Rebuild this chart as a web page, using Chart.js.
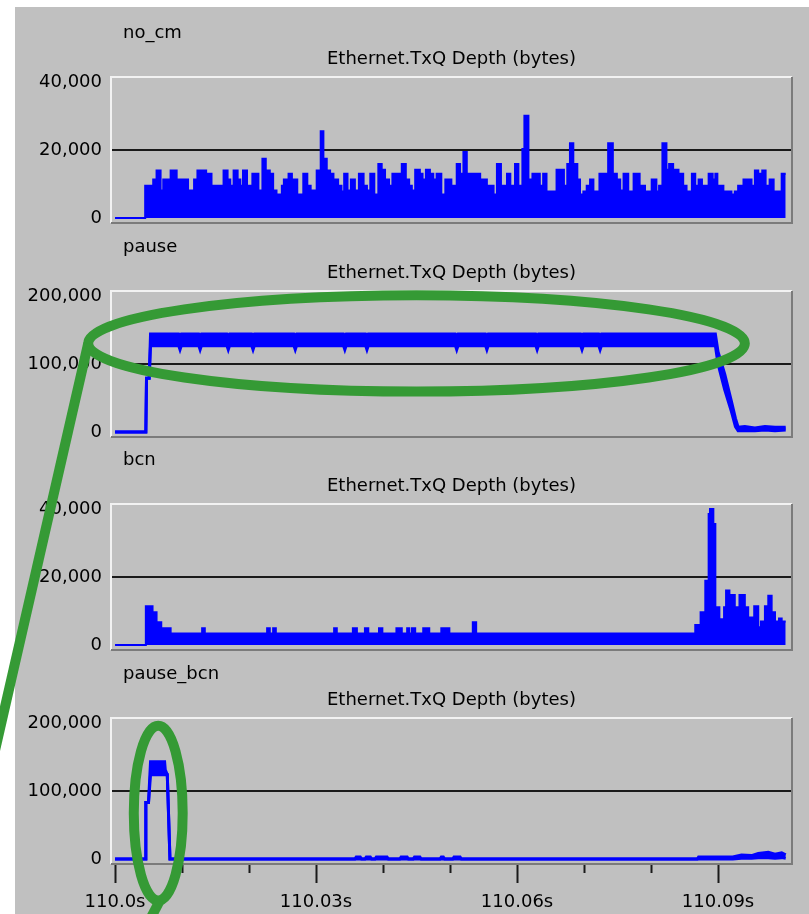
<!DOCTYPE html>
<html>
<head>
<meta charset="utf-8">
<script src="https://cdn.jsdelivr.net/npm/chart.js@4.4.1/dist/chart.umd.min.js"></script>
<style>
  html, body { margin: 0; padding: 0; width: 809px; height: 914px; overflow: hidden; background: #fff; }
  #bg { position: absolute; left: 15px; top: 7px; width: 794px; height: 907px; background: #c0c0c0; }
  canvas.panel { position: absolute; left: 0; }
  .lbl { position: absolute; font: 18px "DejaVu Sans"; line-height: 20px; color: #000; white-space: nowrap; }
  .ttl { left: 111px; width: 681px; text-align: center; }
  #marks { position: absolute; left: 0; top: 0; pointer-events: none; }
</style>
</head>
<body>
<div id="bg"></div>
<canvas id="marks" width="809" height="914"></canvas>
<script>
// time is in ms after 110.0 s, depth in bytes

// no_cm: step changes
const timesNoCm = [0, 4.5, 5.7, 6.2, 6.8, 7.2, 8.3, 9.2, 10.9, 11.8, 12.3, 13.6, 13.9, 14.4, 16.2, 16.8, 17.2, 17.7, 18.3, 18.7,
  19.1, 19.7, 20.0, 20.5, 21.4, 22.0, 22.5, 23.1, 23.6, 24.1, 24.9, 25.2, 25.9, 26.4, 26.7, 27.2, 28.1, 28.7, 29.2, 30.1,
  30.7, 31.1, 31.6, 32.1, 32.6, 33.3, 33.8, 34.2, 34.7, 35.2, 35.8, 36.4, 37.1, 37.6, 38.1, 38.7, 39.3, 39.8, 40.3, 40.9,
  41.4, 42.8, 43.4, 43.9, 44.3, 44.8, 45.5, 45.9, 46.4, 47.0, 47.5, 48.0, 48.7, 49.3, 50.2, 51.0, 51.5, 52.0, 52.5, 54.5,
  54.7, 55.5, 55.8, 56.5, 57.0, 57.6, 58.5, 59.0, 59.7, 60.2, 60.8, 61.1, 61.7, 62.3, 63.4, 63.9, 64.4, 64.7, 65.9, 67.0,
  67.5, 67.9, 68.4, 69.0, 69.4, 69.9, 70.4, 70.9, 71.4, 72.3, 73.6, 74.3, 74.9, 75.4, 75.9, 76.6, 77.4, 78.3, 79.1, 80.1,
  80.8, 81.2, 81.7, 82.3, 82.7, 83.3, 84.1, 84.8, 85.3, 86.1, 86.6, 87.1, 87.6, 87.9, 88.6, 89.2, 89.6, 89.9, 90.8, 92.0,
  92.5, 93.0, 93.8, 95.0, 95.5, 96.0, 96.6, 97.1, 97.7, 98.3, 99.5, 100.1];
const valuesNoCm = [0, 9500, 11300, 14000, 8100, 11300, 14000, 11300, 8100, 11300, 14000, 8100, 13000, 9500, 14000, 11300, 9500, 14000, 11300, 9500,
  14000, 8100, 9500, 13000, 8100, 17400, 14000, 13000, 8100, 6900, 9500, 11300, 13000, 9500, 11300, 6900, 13000, 9500, 8100, 14000,
  25500, 17400, 14000, 13000, 11300, 9500, 7800, 13000, 8100, 11300, 8100, 13000, 9500, 8100, 13000, 6900, 15900, 14200, 11300, 9500,
  13000, 15900, 11300, 9500, 8100, 14200, 13000, 11300, 14200, 13000, 11300, 13000, 6900, 11300, 9500, 15900, 13000, 19400, 13000, 9500,
  11300, 6900, 9500, 6900, 15900, 9500, 13000, 9500, 15900, 9500, 20300, 30100, 11300, 13000, 9500, 13000, 6900, 7800, 14200, 9500,
  15900, 22000, 15900, 11300, 6900, 7800, 9500, 11300, 7800, 13000, 22000, 13000, 11300, 8100, 13000, 7800, 13000, 9500, 7800, 11300,
  7800, 9500, 22000, 14200, 15900, 14200, 13000, 9500, 7800, 13000, 9500, 11300, 7800, 9500, 13000, 11300, 13000, 9500, 7800, 6900,
  7800, 9500, 11300, 9500, 14000, 13000, 14000, 9500, 11300, 7800, 13000, 13000];

// pause: band of the queue (upper and lower edge)
const timesPause = [0, 4.6, 4.7, 5.1, 5.3, 9.5, 9.7, 9.9, 12.5, 12.7, 12.9, 16.7, 16.9, 17.1, 20.4, 20.6, 20.8, 26.7, 26.9, 27.1,
  34.1, 34.3, 34.5, 37.4, 37.6, 37.8, 50.8, 51.0, 51.2, 55.3, 55.5, 55.7, 62.8, 63.0, 63.2, 69.5, 69.7, 69.9, 72.2, 72.4,
  72.6, 89.6, 90.0, 91.0, 92.0, 92.6, 93.0, 94.0, 95.5, 97.0, 98.5, 100.1];
const pauseUpper = [0, 0, 79000, 79000, 144000, 144000, 141000, 144000, 144000, 141000, 144000, 144000, 141000, 144000, 144000, 141000, 144000, 144000, 141000, 144000,
  144000, 141000, 144000, 144000, 141000, 144000, 144000, 141000, 144000, 144000, 141000, 144000, 144000, 141000, 144000, 144000, 141000, 144000, 144000, 141000,
  144000, 144000, 118000, 85000, 45000, 20000, 7000, 8000, 6000, 8000, 7000, 7000];
const pauseLower = [0, 0, 79000, 79000, 127000, 127000, 121000, 127000, 127000, 121000, 127000, 127000, 121000, 127000, 127000, 121000, 127000, 127000, 121000, 127000,
  127000, 121000, 127000, 127000, 121000, 127000, 127000, 121000, 127000, 127000, 121000, 127000, 127000, 121000, 127000, 127000, 121000, 127000, 127000, 121000,
  127000, 127000, 100000, 62000, 30000, 8000, 2000, 2000, 2000, 3000, 2000, 3000];

// bcn: step changes
const timesBcn = [0, 4.6, 5.6, 6.2, 6.9, 8.3, 13.0, 13.4, 22.7, 23.1, 23.6, 24.0, 32.7, 33.1, 35.5, 36.1, 37.3, 37.8, 39.4, 39.9,
  42.0, 42.8, 43.6, 43.9, 44.3, 44.8, 46.0, 46.9, 48.7, 49.9, 53.4, 53.9, 86.6, 87.4, 88.1, 88.6, 88.8, 89.3, 89.6, 90.2,
  90.9, 91.2, 91.7, 92.0, 92.5, 93.2, 94.0, 94.5, 95.4, 96.0, 96.4, 97.0, 97.5, 98.0, 98.5, 99.1, 99.5, 100.1];
const valuesBcn = [0, 11400, 9600, 6700, 4900, 3400, 4900, 3400, 4900, 3400, 4900, 3400, 4900, 3400, 4900, 3400, 4900, 3400, 4900, 3400,
  4900, 3400, 4900, 3400, 4900, 3400, 4900, 3400, 4900, 3400, 6700, 3400, 5900, 9600, 18900, 38500, 40000, 35600, 11100, 7600,
  11100, 16000, 11100, 14700, 11100, 14700, 11100, 8100, 11400, 5200, 6900, 11400, 14500, 9600, 6900, 7800, 6900, 6900];

// pause_bcn: band of the queue (upper and lower edge)
const timesPauseBcn = [0, 4.5, 4.6, 5.0, 5.3, 7.4, 7.5, 7.8, 8.2, 35.8, 36.0, 36.6, 36.8, 37.3, 37.5, 38.1, 38.3, 38.8, 39.0, 40.6,
  40.8, 42.5, 42.7, 43.6, 43.8, 44.5, 44.7, 45.5, 45.7, 48.5, 48.7, 49.0, 49.2, 50.4, 50.6, 51.5, 51.7, 86.9, 87.1, 92.2,
  93.5, 95.0, 96.0, 97.5, 98.5, 99.5, 100.1];
const pauseBcnUpper = [0, 0, 83000, 83000, 143000, 143000, 131000, 124000, 0, 0, 3000, 3000, 0, 0, 3000, 3000, 0, 0, 3000, 3000,
  0, 0, 3000, 3000, 0, 0, 3000, 3000, 0, 0, 3000, 3000, 0, 0, 3000, 3000, 0, 0, 3000, 3000,
  6000, 5000, 8000, 10000, 7000, 9000, 6000];
const pauseBcnLower = [0, 0, 83000, 83000, 124000, 124000, 124000, 124000, 0, 0, 0, 0, 0, 0, 0, 0, 0, 0, 0, 0,
  0, 0, 0, 0, 0, 0, 0, 0, 0, 0, 0, 0, 0, 0, 0, 0, 0, 0, 0, 0,
  1000, 1000, 2000, 2000, 1000, 2000, 1000];

const panelNames = ['no_cm', 'pause', 'bcn', 'pause_bcn'];
const panelTitle = 'Ethernet.TxQ Depth (bytes)';
const yTicksSmall = [0, 20000, 40000];
const yTicksBig = [0, 100000, 200000];
const xTicks = [0, 10, 20, 30, 40, 50, 60, 70, 80, 90];
const xTickLabels = ['110.0s', '', '', '110.03s', '', '', '110.06s', '', '', '110.09s'];

// layout
const W = 809, BOX_L = 111, BOX_R = 792, BOX_H = 146, PAD = 10, X_AXIS_H = 70;
const boxTops = [77, 291, 504, 718];
const X_MIN = -0.6, X_MAX = 101.04;
const BLUE = '#0000ff';
const GREEN = '#359a35';

Chart.defaults.font.family = '"DejaVu Sans"';
Chart.defaults.font.size = 18;
Chart.defaults.color = '#000';

const framePlugin = {
  id: 'frame',
  afterDraw(chart) {
    const { ctx, chartArea: a } = chart;
    ctx.save();
    ctx.lineWidth = 2;
    ctx.strokeStyle = '#f2f2f2';
    ctx.beginPath();
    ctx.moveTo(a.left, a.bottom);
    ctx.lineTo(a.left, a.top);
    ctx.lineTo(a.right, a.top);
    ctx.stroke();
    ctx.strokeStyle = '#7b7b7b';
    ctx.beginPath();
    ctx.moveTo(a.right, a.top);
    ctx.lineTo(a.right, a.bottom);
    ctx.lineTo(a.left, a.bottom);
    ctx.stroke();
    ctx.restore();
  }
};

function stepSet(times, vals) {
  return {
    data: times.map((t, i) => ({ x: t, y: vals[i] })),
    stepped: true, fill: 'origin',
    borderColor: BLUE, backgroundColor: BLUE, borderWidth: 2, pointRadius: 0
  };
}

function bandSets(times, upper, lower) {
  return [
    { data: times.map((t, i) => ({ x: t, y: upper[i] })), fill: false,
      borderColor: BLUE, borderWidth: 3, pointRadius: 0, tension: 0 },
    { data: times.map((t, i) => ({ x: t, y: lower[i] })), fill: '-1',
      borderColor: BLUE, backgroundColor: BLUE, borderWidth: 3, pointRadius: 0, tension: 0 }
  ];
}

function addText(cls, text, top) {
  const d = document.createElement('div');
  d.className = cls;
  d.textContent = text;
  d.style.top = top + 'px';
  document.body.appendChild(d);
  return d;
}

const canvases = [];

function makePanel(i, datasets, yTicks) {
  const last = i === 3;
  const cv = document.createElement('canvas');
  cv.className = 'panel';
  cv.width = W;
  cv.height = last ? PAD + BOX_H + X_AXIS_H : PAD * 2 + BOX_H;
  cv.style.top = (boxTops[i] - PAD) + 'px';
  document.body.insertBefore(cv, document.getElementById('marks'));
  canvases.push(cv);

  const nm = addText('lbl', panelNames[i], boxTops[i] - 55);
  nm.style.left = '123px';
  addText('lbl ttl', panelTitle, boxTops[i] - 29);

  const top = yTicks[yTicks.length - 1];
  const margin = top * 5 / 136;

  return new Chart(cv, {
    type: 'line',
    data: { datasets },
    options: {
      responsive: false,
      animation: false,
      devicePixelRatio: 1,
      events: [],
      layout: { padding: { top: PAD, bottom: last ? 0 : PAD, left: 0, right: W - BOX_R } },
      plugins: { legend: { display: false }, tooltip: { enabled: false } },
      scales: {
        x: {
          type: 'linear', min: X_MIN, max: X_MAX, display: last,
          afterBuildTicks: s => { s.ticks = xTicks.map(v => ({ value: v })); },
          afterFit: s => {
            s.height = last ? X_AXIS_H : 0;
            s.paddingLeft = 0;
            s.paddingRight = 0;
          },
          border: { display: false },
          grid: {
            drawOnChartArea: false, drawTicks: true, tickLength: 19, tickWidth: 2, tickColor: '#1a1a1a',
            tickBorderDash: c => (xTickLabels[c.index] ? [] : [9, 40])
          },
          ticks: { autoSkip: false, maxRotation: 0, padding: 9, color: '#000',
            callback: (v, idx) => xTickLabels[idx] }
        },
        y: {
          min: -margin, max: top + margin,
          afterBuildTicks: s => { s.ticks = yTicks.map(v => ({ value: v })); },
          afterFit: s => { s.width = BOX_L; s.paddingTop = 0; s.paddingBottom = 0; },
          border: { display: false },
          grid: {
            drawTicks: false, lineWidth: 2,
            color: c => (c.tick && c.tick.value === yTicks[1] ? '#1a1a1a' : 'rgba(0,0,0,0)')
          },
          ticks: { padding: 9, color: '#000', callback: v => v.toLocaleString('en-US') }
        }
      }
    },
    plugins: [framePlugin]
  });
}

const charts = [
  makePanel(0, [stepSet(timesNoCm, valuesNoCm)], yTicksSmall),
  makePanel(1, bandSets(timesPause, pauseUpper, pauseLower), yTicksBig),
  makePanel(2, [stepSet(timesBcn, valuesBcn)], yTicksSmall),
  makePanel(3, bandSets(timesPauseBcn, pauseBcnUpper, pauseBcnLower), yTicksBig)
];

// green highlight marks, given in the data units of the panel they sit on
const marks = [
  { type: 'ellipse', chart: 1, x: [-4.0, 94.0], y: [59500, 201000] },
  { type: 'line', chart: 1, from: [-4.0, 130250], to: [-24, -730000] },
  { type: 'ellipse', chart: 3, x: [2.8, 10.1], y: [-61000, 196000] },
  { type: 'line', chart: 3, from: [6.7, -61000], to: [4.9, -95000] }
];

function toPage(ci, xv, yv) {
  const c = charts[ci];
  const cv = canvases[ci];
  return [c.scales.x.getPixelForValue(xv) + cv.offsetLeft, c.scales.y.getPixelForValue(yv) + cv.offsetTop];
}

const mctx = document.getElementById('marks').getContext('2d');
mctx.strokeStyle = GREEN;
mctx.lineWidth = 10;
marks.forEach(m => {
  mctx.beginPath();
  if (m.type === 'ellipse') {
    const [x1, y1] = toPage(m.chart, m.x[0], m.y[1]);
    const [x2, y2] = toPage(m.chart, m.x[1], m.y[0]);
    mctx.ellipse((x1 + x2) / 2, (y1 + y2) / 2, (x2 - x1) / 2, (y2 - y1) / 2, 0, 0, Math.PI * 2);
  } else {
    const [ax, ay] = toPage(m.chart, m.from[0], m.from[1]);
    const [bx, by] = toPage(m.chart, m.to[0], m.to[1]);
    mctx.moveTo(ax, ay);
    mctx.lineTo(bx, by);
  }
  mctx.stroke();
});
</script>
</body>
</html>
